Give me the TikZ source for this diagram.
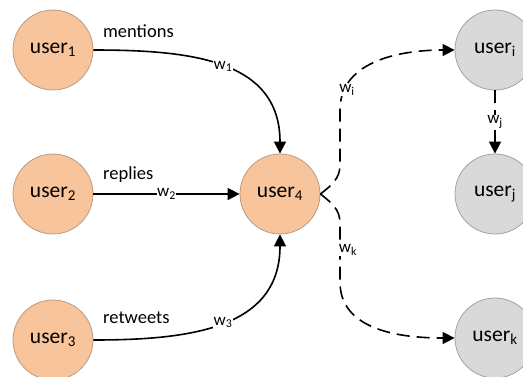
\documentclass[tikz,border=0pt]{standalone}
\usepackage{fontspec}
\setmainfont{Carlito}
\usetikzlibrary{arrows.meta}
\definecolor{peach}{HTML}{F8C49B}
\definecolor{peachline}{HTML}{B89C86}
\definecolor{greyfill}{HTML}{D9D9D9}
\definecolor{greyline}{HTML}{A3A3A3}

\begin{document}
\begin{tikzpicture}[x=1pt,y=-1pt,
  user/.style={circle, minimum size=80pt, inner sep=0pt, line width=0.8pt,
    font=\fontsize{21.5}{24}\selectfont},
  seed/.style={user, fill=peach, draw=peachline},
  reached/.style={user, fill=greyfill, draw=greyline},
  link/.style={line width=1.6pt, -{Triangle[length=12pt,width=12pt]}},
  spread/.style={link, dash pattern=on 13pt off 7pt},
  wlabel/.style={fill=white, inner sep=0.6pt, font=\fontsize{17}{19}\selectfont},
  kind/.style={anchor=base west, inner sep=0pt, font=\fontsize{18.5}{20}\selectfont}]

\clip (0,0) rectangle (523,376);
\fill[white] (0,0) rectangle (523,376);

% users that act on user4
\node[seed] (u1) at (53,50)  {user\textsubscript{1}};
\node[seed] (u2) at (53,194) {user\textsubscript{2}};
\node[seed] (u3) at (53,340) {user\textsubscript{3}};
\node[seed] (u4) at (280,194) {user\textsubscript{4}};

% users reached from user4
\node[reached] (ui) at (495,50)  {user\textsubscript{i}};
\node[reached] (uj) at (495,194) {user\textsubscript{j}};
\node[reached] (uk) at (495,338) {user\textsubscript{k}};

% interaction kinds
\node[kind] (tm) at (103,37)  {mentions};
\node[kind] (tr) at (103,179) {replies};
\node[kind] (tt) at (103,323) {retweets};

% weighted interactions into user4
\draw[link] (u1.east) .. controls +(97,0) and +(0,-94) .. node[wlabel, pos=0.5] (w1) {w\textsubscript{1}} (u4.north);
\draw[link] (u2.east) -- node[wlabel, pos=0.5] (w2) {w\textsubscript{2}} (u4.west);
\draw[link] (u3.east) .. controls +(97,0) and +(0,94) .. node[wlabel, pos=0.5] (w3) {w\textsubscript{3}} (u4.south);

% propagation out of user4
\draw[spread] (u4.east) to[out=38,in=-90] (340,165) -- (340,110) to[out=90,in=180] (ui.west);
\draw[spread] (u4.east) to[out=-38,in=90] (340,223) -- (340,282) to[out=-90,in=180] (uk.west);
\draw[spread] (ui.south) -- node[wlabel, pos=0.5] (wj) {w\textsubscript{j}} (uj.north);

\node[wlabel] (wi) at (347,90)  {w\textsubscript{i}};
\node[wlabel] (wk) at (348,250) {w\textsubscript{k}};
\end{tikzpicture}
\end{document}
